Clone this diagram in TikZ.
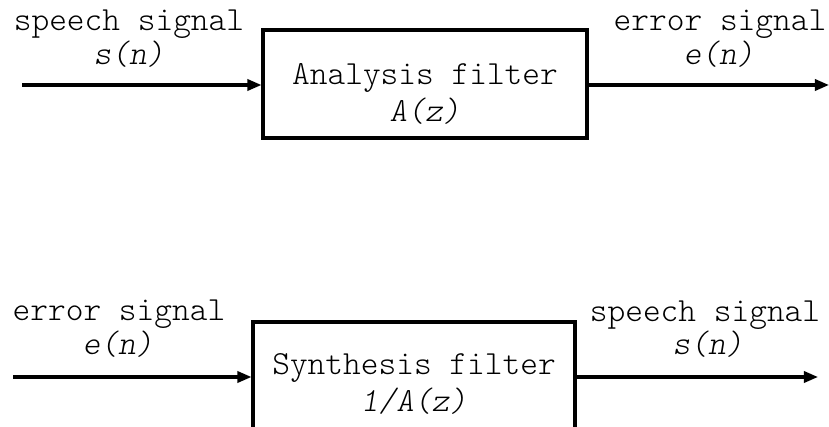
\documentclass[tikz,border=0pt]{standalone}
\usepackage{fontspec}
\newfontfamily\lightmono{Latin Modern Mono Light}
\usetikzlibrary{arrows.meta}
\begin{document}
\begin{tikzpicture}[x=0.03cm,y=-0.03cm,
  blk/.style={draw,line width=2.6pt,minimum width=#1*0.03cm,minimum height=108*0.03cm,inner sep=0pt},
  lbl/.style={font=\lightmono\fontsize{28.8}{32}\selectfont,anchor=base,inner sep=0pt,text=black},
  sig/.style={line width=2.6pt,-{Triangle[length=12pt,width=9.5pt]}}]
\useasboundingbox (0,0) rectangle (829,427);
\clip (0,0) rectangle (829,427);
% top
\node[blk=324] (ana) at (425,84) {};
\node[lbl] (anat) at (425,85) {Analysis filter};
\node[lbl] (anaf) at (425,122) {\textsl{A(z)}};
\coordinate (in1) at (22,85);
\coordinate (out1) at (829,85);
\draw[sig] (in1) -- (ana.west |- in1);
\draw[sig] (ana.east |- out1) -- (out1);
\node[lbl] (l1) at (129,31) {speech signal};
\node[lbl] (l1f) at (129,65) {\textsl{s(n)}};
\node[lbl] (r1) at (720,31) {error signal};
\node[lbl] (r1f) at (719,65) {\textsl{e(n)}};
% bottom
\node[blk=322] (syn) at (414,376) {};
\node[lbl] (synt) at (414,375) {Synthesis filter};
\node[lbl] (synf) at (414,412) {\textsl{1/A(z)}};
\coordinate (in2) at (13,377);
\coordinate (out2) at (818,377);
\draw[sig] (in2) -- (syn.west |- in2);
\draw[sig] (syn.east |- out2) -- (out2);
\node[lbl] (l2) at (119,321) {error signal};
\node[lbl] (l2f) at (118,355) {\textsl{e(n)}};
\node[lbl] (r2) at (705,322) {speech signal};
\node[lbl] (r2f) at (708,355) {\textsl{s(n)}};
\end{tikzpicture}
\end{document}
